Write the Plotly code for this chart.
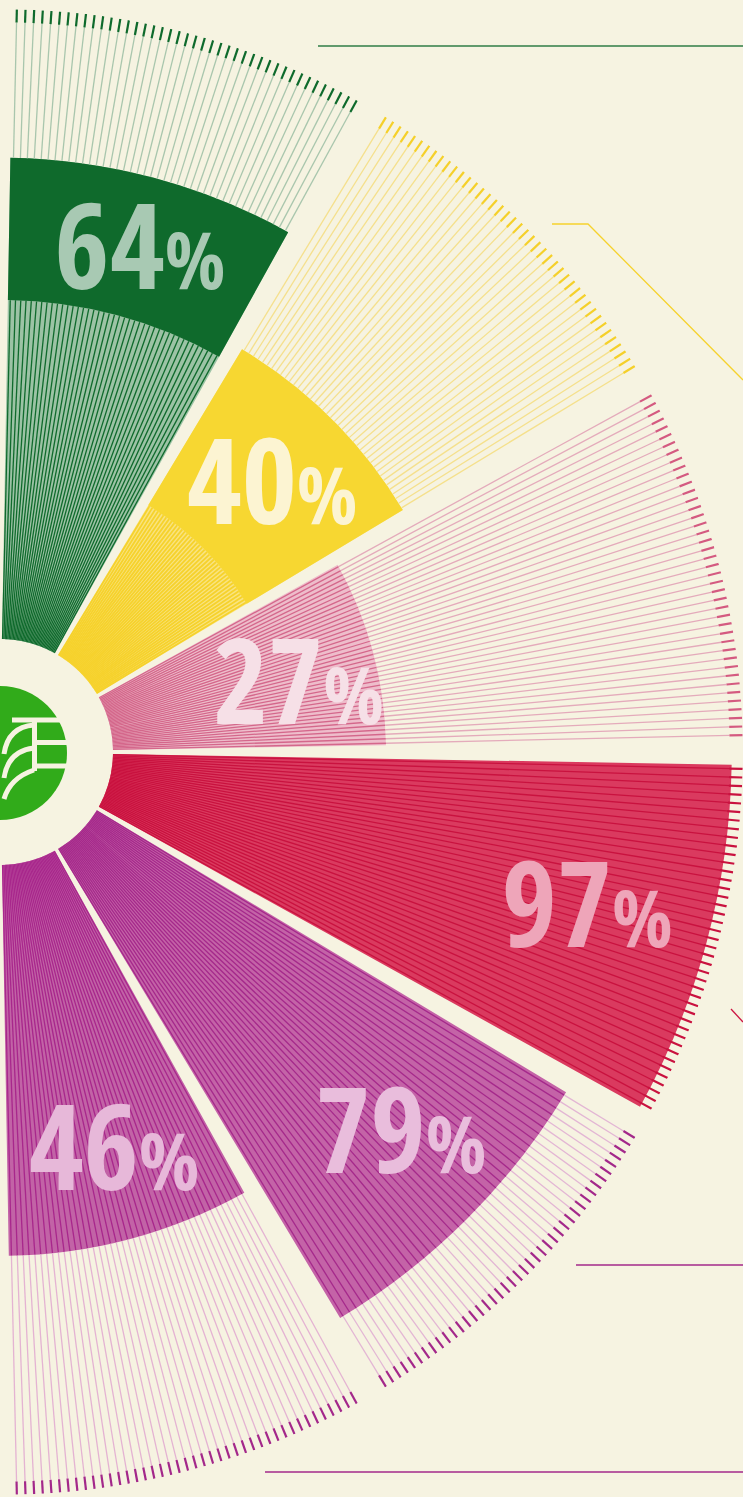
import numpy as np
import plotly.graph_objects as go

# ── Data ─────────────────────────────────────────────────────────────────────
segments = ["green", "yellow", "pink", "red", "purple", "magenta"]
pct = [64, 40, 27, 97, 79, 46]            # share shown by each wedge (area-proportional)
band_pct = [37, 15, None, None, None, None]  # where the solid band starts (striped part below)

# ── Style ────────────────────────────────────────────────────────────────────
W, H = 743, 1497
BG = "#f6f3e1"
FONT = "Open Sans Condensed, Roboto Condensed, sans-serif"

centers = [75, 45, 15, -15, -45, -75]
WEDGE = 28.0
N_LINES = 42
HOLE = 113 / 743
TIP = 0.018

fill_bg = ["#9cc3a5", "#f9e481", "#eebdcb", "#da3a5f", "#c463a7", "#c263a6"]
stripe = ["#0f6a2c", "#f6d22c", "#d4678b", "#c9123f", "#a5298b", "#a8278c"]
stripe_w = [1.3, 1.8, 1.3, 1.3, 1.3, 1.3]
band_col = ["#0f6a2c", "#f7d731", None, None, None, None]
outer_col = ["#a9c6ad", "#f5e08c", "#e4abbb", "#e8a0b3", "#e3b6d4", "#e4b3d2"]
tip_col = ["#0e6a2c", "#f5d02a", "#d45a80", "#c9123f", "#a3288a", "#a3288a"]
label_col = ["#a8c9b3", "#fcf4d2", "#f6e0e7", "#eea5b9", "#e9bddc", "#e7b8d9"]
label_r = [0.690, 0.504, 0.409, 0.821, 0.754, 0.571]
label_t = [74.15, 43.4, 10.9, -15.7, -44.3, -74.4]

fill_r = [np.sqrt(p / 100) for p in pct]
band_r = [np.sqrt(b / 100) if b else None for b in band_pct]

fig = go.Figure()

# wedge fills
fig.add_trace(go.Barpolar(
    theta=centers, width=[WEDGE] * 6, base=[HOLE] * 6,
    r=[f - HOLE for f in fill_r],
    marker=dict(color=fill_bg, line_width=0),
    hoverinfo="skip",
))
# solid bands (green, yellow)
idx = [i for i, b in enumerate(band_r) if b]
fig.add_trace(go.Barpolar(
    theta=[centers[i] for i in idx], width=[WEDGE] * len(idx),
    base=[band_r[i] for i in idx],
    r=[fill_r[i] - band_r[i] for i in idx],
    marker=dict(color=[band_col[i] for i in idx], line_width=0),
    hoverinfo="skip",
))


def spokes(angles, r0, r1, color, width):
    rr, tt = [], []
    for a in angles:
        rr += [r0, r1, None]
        tt += [a, a, None]
    return go.Scatterpolar(r=rr, theta=tt, mode="lines",
                           line=dict(color=color, width=width), hoverinfo="skip")


for i in range(6):
    ang = np.linspace(centers[i] - WEDGE / 2 + 0.3, centers[i] + WEDGE / 2 - 0.3, N_LINES)
    s_end = band_r[i] if band_r[i] else fill_r[i]
    fig.add_trace(spokes(ang, HOLE, s_end, stripe[i], stripe_w[i]))      # stripes in fill
    if fill_r[i] < 1 - TIP:
        fig.add_trace(spokes(ang, fill_r[i], 1 - TIP, outer_col[i], 1.3))  # light lines
    fig.add_trace(spokes(ang, 1 - TIP, 1.0, tip_col[i], 2.2))             # dark tips

# percentage labels
fig.add_trace(go.Scatterpolar(
    r=label_r, theta=label_t, mode="text",
    text=[f"{p}<span style='font-size:80px'>%</span>" for p in pct],
    textposition="middle center",
    textfont=dict(family=FONT, size=119, color=label_col, weight="bold"),
    hoverinfo="skip",
))

# ── Decorations: logo and leader lines (pixel space overlay) ────────────────
shapes = [
    dict(type="circle", x0=-67, x1=67, y0=686, y1=820,
         fillcolor="#31ab1a", line_width=0),
]
cream = dict(color=BG, width=5)
for path in [
    "M 12,720 L 60,720",
    "M 34.5,722 L 34.5,771",
    "M 36,742.5 L 70,742.5",
    "M 36,766 L 70,766",
    "M 34,725 Q 8,727 4,754",
    "M 34,748 Q 8,751 4,778",
    "M 34,770 Q 10,778 4,799",
]:
    shapes.append(dict(type="path", path=path, line=cream))

leaders = [
    ("M 318,46 L 743,46", "#2f7d45"),
    ("M 552,224 L 588,224 L 743,380", "#f6d22d"),
    ("M 731,1009 L 743,1022", "#cc1442"),
    ("M 576,1265 L 743,1265", "#a3288a"),
    ("M 265,1472 L 743,1472", "#a3288a"),
]
for path, col in leaders:
    shapes.append(dict(type="path", path=path, line=dict(color=col, width=1.3)))

for s in shapes:
    s.update(xref="x", yref="y", layer="above")

fig.update_layout(
    width=W, height=H,
    margin=dict(l=0, r=0, t=0, b=0),
    paper_bgcolor=BG, plot_bgcolor=BG,
    showlegend=False,
    polar=dict(
        domain=dict(x=[0, 1], y=[1 - 1495 / H, 1 - 9 / H]),
        sector=[-90, 90],
        bgcolor=BG,
        radialaxis=dict(range=[0, 1], visible=False),
        angularaxis=dict(visible=False, showline=False, showgrid=False),
    ),
    xaxis=dict(range=[0, W], visible=False, domain=[0, 1], fixedrange=True),
    yaxis=dict(range=[H, 0], visible=False, domain=[0, 1], fixedrange=True),
    shapes=shapes,
)

fig.write_html(
    "out.html",
    config={"displayModeBar": False},
    post_script="document.body.style.margin='0';document.body.style.background='%s';" % BG,
)
